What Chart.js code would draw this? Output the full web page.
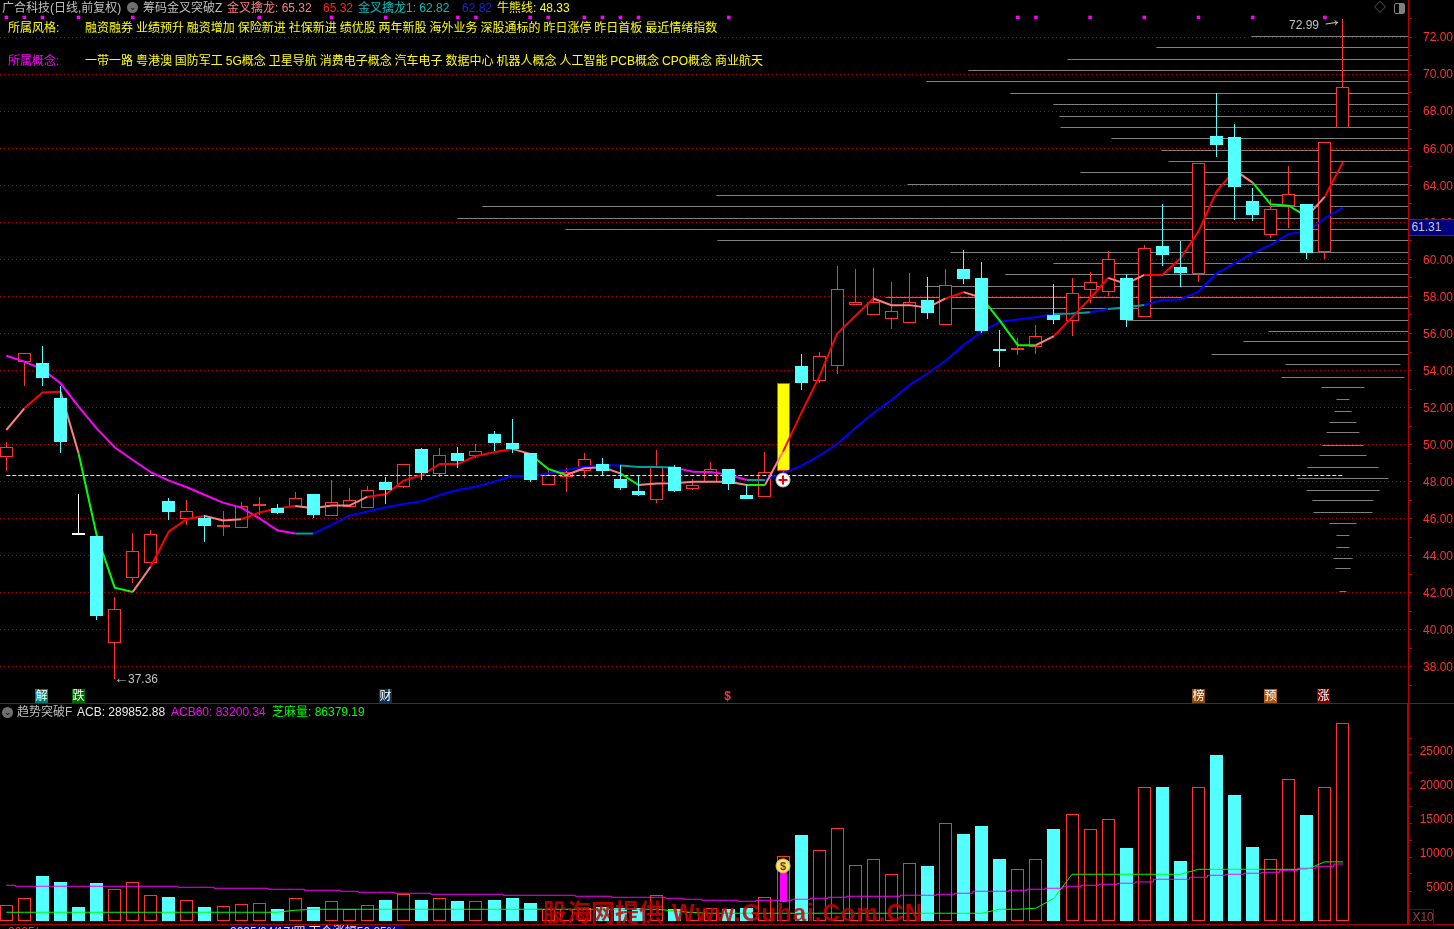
<!DOCTYPE html>
<html>
<head>
<meta charset="utf-8">
<title>广合科技</title>
<script src="https://cdn.jsdelivr.net/npm/chart.js@4/dist/chart.umd.min.js"></script>
<style>
  html, body { margin: 0; background: #000; width: 1454px; height: 929px; overflow: hidden; }
  body { position: relative; font: 12px "Liberation Sans", "Noto Sans CJK SC", sans-serif; }
  canvas { position: absolute; left: 0; }
  #pricePane { top: 0; }
  #volPane { top: 704px; }
  .t { position: absolute; white-space: pre; line-height: 14px; }
  .mark { position: absolute; top: 689px; width: 13px; height: 14px; line-height: 14px; text-align: center; color: #fff; font-size: 12px; }
  .rule { position: absolute; background: #b00000; }
  .icon { position: absolute; width: 11px; height: 11px; border-radius: 6px; background: #707070; color: #111; font-size: 9px; line-height: 10px; text-align: center; }
</style>
</head>
<body>
<canvas id="pricePane" width="1454" height="704"></canvas>
<canvas id="volPane" width="1454" height="221"></canvas>

<div class="rule" style="left:0;top:703px;width:1454px;height:1px"></div>
<div class="rule" style="left:0;top:924px;width:1454px;height:1px"></div>

<div class="icon" style="left:127px;top:2px">&#8964;</div>
<div class="t" style="left:2px;top:1px;color:#c0c0c0">广合科技(日线,前复权)</div>
<div class="t" style="left:143px;top:1px;color:#c0c0c0">筹码金叉突破Z</div>
<div class="t" style="left:227px;top:1px;color:#ff8080">金叉擒龙: 65.32</div>
<div class="t" style="left:323px;top:1px;color:#ff2020">65.32</div>
<div class="t" style="left:358px;top:1px;color:#00c0c0">金叉擒龙1: 62.82</div>
<div class="t" style="left:462px;top:1px;color:#2020e0">62.82</div>
<div class="t" style="left:497px;top:1px;color:#ffff00">牛熊线: 48.33</div>

<div class="t" style="left:8px;top:21px;color:#ffff00">所属风格:</div>
<div class="t" style="left:85px;top:21px;color:#ffff00;word-spacing:-0.4px">融资融券 业绩预升 融资增加 保险新进 社保新进 绩优股 两年新股 海外业务 深股通标的 昨日涨停 昨日首板 最近情绪指数</div>
<div class="t" style="left:8px;top:54px;color:#ff00ff">所属概念:</div>
<div class="t" style="left:85px;top:54px;color:#ffff00;word-spacing:-0.4px">一带一路 粤港澳 国防军工 5G概念 卫星导航 消费电子概念 汽车电子 数据中心 机器人概念 人工智能 PCB概念 CPO概念 商业航天</div>

<div class="t" style="left:1289px;top:18px;color:#c0c0c0">72.99</div>
<div class="t" style="left:1321px;top:14px;color:#c0c0c0;transform:rotate(-8deg);font-size:21px;transform-origin:left center;transform-box:fill-box">&#8594;</div>
<div class="t" style="left:114px;top:671px;color:#c0c0c0;font-size:15px">&#8592;</div>
<div class="t" style="left:128px;top:672px;color:#c0c0c0">37.36</div>
<div class="t" style="left:1374px;top:1px;color:#707070">&#9671;</div>
<div style="position:absolute;left:1394px;top:3px;width:9px;height:9px;border:1px solid #808080;border-radius:2px;background:linear-gradient(90deg,#000 50%,#808080 50%)"></div>
<div class="t" style="left:1409px;top:219px;width:45px;height:15px;line-height:15px;background:#000080;border-top:1px solid #b00000;border-bottom:1px solid #b00000;color:#c8c8c8">&#8201;61.31</div>

<div class="mark" style="left:35px;background:#007878">解</div>
<div class="mark" style="left:72px;background:#006800">跌</div>
<div class="mark" style="left:379px;background:#103058">财</div>
<div class="mark" style="left:721px;color:#ff3232;font-weight:bold">$</div>
<div class="mark" style="left:1192px;background:#8a4a10">榜</div>
<div class="mark" style="left:1264px;background:#b05810">预</div>
<div class="mark" style="left:1317px;background:#800000">涨</div>

<div class="icon" style="left:2px;top:707px">&#8964;</div>
<div class="t" style="left:17px;top:705px;color:#c0c0c0">趋势突破F</div>
<div class="t" style="left:77px;top:705px;color:#e8e8e8">ACB: 289852.88</div>
<div class="t" style="left:171px;top:705px;color:#ff00ff">ACB60: 83200.34</div>
<div class="t" style="left:272px;top:705px;color:#00ff00">芝麻量: 86379.19</div>
<div class="t" style="left:780px;top:859px;color:#704000;font-size:11px;font-weight:bold;z-index:2">$</div>

<div class="t" style="left:1409px;top:909px;width:23px;height:14px;border:1px solid #800000;color:#a04040">&#8201;X10</div>
<div class="t" style="left:543px;top:899px;line-height:28px;font-size:24px;font-weight:bold;color:rgba(205,0,0,.85)">股海网提供</div>
<div class="t" style="left:672px;top:899px;line-height:28px;font-size:24px;font-weight:bold;letter-spacing:1px;color:rgba(205,0,0,.85)">Www.Guhai.Com.CN</div>
<div class="t" style="left:230px;top:925px;width:173px;background:#000080;color:#e0e0e0">2025/04/17/四 下个涨幅50.85%</div>
<div class="t" style="left:8px;top:925px;color:#ff3232">2025/</div>

<script>
// 日线数据 (逐根从图上读)
const opens = [49.32,54.48,54.41,52.52,45.12,45.07,39.31,42.80,43.60,46.96,46.01,46.04,45.55,45.52,46.69,46.58,46.64,47.34,46.17,46.65,
  46.60,47.99,47.73,49.77,48.43,49.55,49.41,50.58,50.09,49.55,47.84,48.27,48.56,48.96,48.15,47.50,47.03,48.80,47.63,47.98,
  48.69,47.28,47.19,48.60,54.24,53.45,54.26,57.55,57.01,56.76,56.54,57.80,56.47,59.48,58.99,55.09,55.12,55.25,57.00,56.70,
  58.32,58.26,59.00,56.89,60.72,59.59,59.19,66.66,66.61,63.15,61.33,62.86,62.99,60.38,67.07];
const closes = [49.86,54.93,53.62,50.16,45.11,40.75,41.11,44.24,45.16,46.37,46.40,45.61,45.59,46.67,46.73,46.31,47.10,46.22,46.92,46.99,
  47.54,47.55,48.94,48.47,49.42,49.12,49.64,50.09,49.77,48.09,48.34,48.54,49.21,48.58,47.66,47.28,48.78,47.50,47.81,48.67,
  47.88,47.07,48.51,53.31,53.34,54.76,58.38,57.68,57.68,57.24,57.68,57.12,58.59,58.95,56.13,55.06,55.16,55.84,56.72,58.20,
  58.76,60.00,56.73,60.60,60.25,59.28,65.18,66.19,63.91,62.41,62.70,63.51,60.36,66.32,69.29];
const highs = [50.13,54.93,55.33,53.17,47.34,45.07,41.78,45.23,45.38,47.12,47.01,46.21,46.42,46.92,47.16,46.80,47.43,47.34,48.08,47.66,
  47.77,48.26,48.94,49.84,49.80,49.87,50.02,50.74,51.39,49.55,48.63,48.72,49.53,49.28,48.90,48.29,49.71,48.90,48.13,49.05,
  48.69,47.88,49.60,53.31,54.87,55.00,59.64,59.48,59.53,58.77,59.26,59.04,59.46,60.50,59.85,56.17,55.73,56.45,58.67,58.99,
  59.31,60.44,59.19,60.80,62.99,61.01,65.18,68.98,67.31,63.85,63.24,65.04,62.99,66.32,72.99];
const lows = [48.58,53.19,53.19,49.57,45.11,40.54,37.36,42.53,43.60,45.94,45.67,44.75,45.09,45.52,46.21,46.26,46.64,46.06,46.17,46.65,
  46.60,46.80,47.68,48.11,48.27,48.74,49.26,49.66,49.55,47.98,47.84,47.46,48.22,48.36,47.55,47.23,46.85,47.45,47.57,47.98,
  47.55,47.05,47.19,48.36,52.96,53.34,53.83,57.55,57.01,56.24,56.54,56.78,56.47,58.68,56.02,54.20,54.85,54.91,56.53,55.88,
  57.66,58.02,56.35,56.89,59.64,58.53,58.80,65.54,62.14,62.09,61.15,61.69,60.02,60.04,67.07];
const volumes = [2254,3283,6566,5684,2009,5537,4606,5635,3724,3479,2989,2009,2107,2401,2548,1715,3283,2009,2842,1666,
  2254,3038,3871,3038,3283,2891,2842,3038,3332,2597,1666,1700,1900,2000,1800,1800,3724,1715,1225,1862,
  1715,1911,3430,9506,12593,10339,13573,8134,9016,6811,8428,8036,14308,12740,13916,9065,7546,9016,13475,15631,
  13426,14896,10682,19600,19649,8771,19600,24353,18473,10829,9016,20776,15533,19600,28985];

// 金叉擒龙 / 牛熊线
const dragonLine = [50.79,51.96,52.81,52.86,49.53,45.13,42.28,42.05,43.42,45.31,45.99,46.15,45.90,45.97,46.33,46.56,46.69,46.56,46.71,46.71,
  47.19,47.32,48.06,48.36,48.96,48.96,49.39,49.59,49.77,49.50,48.69,48.36,48.72,48.78,48.45,47.82,47.90,47.91,48.00,48.00,
  48.00,47.82,47.82,49.62,51.69,53.66,56.00,56.94,57.89,57.53,57.53,57.39,57.89,58.23,57.93,56.69,55.37,55.37,55.86,56.87,
  57.89,59.00,58.67,59.16,59.16,60.06,61.50,63.66,64.82,64.14,62.97,62.90,62.31,63.39,65.26];
const dragonTrend = [1,0,0,1,2,2,2,1,0,0,0,1,1,0,0,0,1,1,1,1,0,0,0,0,0,0,0,0,1,2,2,1,1,1,2,1,1,1,1,1,1,2,1,0,0,0,0,0,1,1,1,1,0,1,2,2,2,1,0,0,0,1,1,0,0,0,0,0,1,2,2,2,1,0];
const bullLine = [54.80,54.48,54.07,53.31,52.05,50.88,49.86,49.17,48.51,48.06,47.70,47.28,46.87,46.60,46.03,45.38,45.20,45.20,45.67,46.17,
  46.39,46.62,46.80,46.94,47.28,47.55,47.73,48.00,48.31,48.31,48.45,48.63,48.81,48.90,48.87,48.79,48.79,48.76,48.54,48.52,
  48.36,48.09,48.09,48.45,48.85,49.39,50.03,50.90,51.71,52.40,53.21,53.84,54.53,55.37,56.09,56.63,56.76,56.87,57.05,57.08,
  57.14,57.32,57.41,57.54,57.81,57.84,58.26,59.25,59.79,60.33,60.78,61.37,61.50,62.22,62.79];
const bullTrend = [0,0,0,0,0,0,0,0,0,0,0,0,0,0,0,0,1,2,2,2,2,2,2,2,2,2,2,2,2,2,2,2,2,2,1,1,1,0,0,0,0,1,2,2,2,2,2,2,2,2,2,2,2,2,2,2,2,2,1,1,2,1,1,2,2,2,2,2,2,2,2,2,2,2];
const bullLevel = 48.33;

// 筹码分布
const chipPrices = [72.04,71.44,70.80,70.20,69.61,68.96,68.37,67.72,67.13,66.53,65.89,65.29,64.70,64.05,63.46,62.86,62.22,61.62,61.03,60.38,
  59.79,59.19,58.55,57.95,57.36,56.71,56.13,55.54,54.89,54.30,53.65,53.06,52.46,51.81,51.22,50.63,49.98,49.39,48.79,48.15,
  47.55,46.96,46.31,45.72,45.12,44.47,43.88,43.29,42.05];
const chipAmounts = [5.07,10.33,15.25,20.74,23.06,18.41,16.03,15.70,15.64,12.82,10.05,9.66,14.53,24.11,34.69,47.65,49.03,43.05,34.63,21.73,
  16.03,18.69,23.12,25.33,21.79,11.93,4.13,5.51,7.28,3.18,3.41,1.19,0.36,0.47,0.75,0.91,1.14,1.30,1.97,2.52,
  2.02,1.69,1.63,0.75,0.36,0.36,0.53,0.42,0.19];

// 成交量指标
const acb60 = [5194,5047,5047,5047,5047,5047,5047,5047,5047,5047,4900,4900,4753,4753,4753,4606,4606,4459,4459,4312,
  4165,4165,4018,4018,3871,3871,3871,3871,3724,3724,3724,3724,3577,3577,3430,3430,3430,3283,3136,2989,
  2989,2842,2989,2989,3136,3283,3430,3577,3577,3577,3724,3724,3871,4018,4312,4312,4459,4606,4753,5047,
  5194,5341,5488,5684,6076,6076,6370,6664,6811,6958,7105,7399,7693,7987,8320];
const sesame = [1225,1225,1225,1225,1225,1225,1225,1225,1225,1225,1225,1225,1225,1225,1225,1225,1519,1666,1666,1666,
  1666,1666,1666,1666,1666,1666,1666,1666,1666,1666,1666,1666,1666,1666,1666,1666,1666,1421,1176,1078,
  1078,1078,1078,1078,1078,1078,1078,1078,1078,1078,1078,1078,1078,1078,1078,1666,1666,1813,3283,6811,
  6811,6811,6811,6811,6811,6811,7546,7546,7546,7546,7546,7546,7546,8638,8638];

// 顶部小方块 / 特殊K线
const topMarkers = [0,1,2,4,7,14,18,21,25,26,29,30,32,33,34,35,40,56,57,60,63,66,69,73];
const topMarkerLevel = 73.06;
const limitDownBar = 4;
const limitUpBar = 43;
const signalPrice = 48.09;
const limitUpVolume = [2793,7203];
const bagVolume = 8044;

// 坐标刻度
const priceTicks = [38,40,42,44,46,48,50,52,54,56,58,60,62,64,66,68,70,72];
const volumeTicks = [5000,10000,15000,20000,25000];

const RED = "#ff3232", CYAN = "#54ffff", GRID = "#b80000";
const xRange = { type: "linear", display: false, min: -0.349, max: 77.6, offset: false, grid: { offset: false } };
const bars = opens.map((_, i) => i);
const upBars = bars.filter(i => closes[i] >= opens[i]);
const downBars = bars.filter(i => closes[i] < opens[i]);

function candleColor(i) {
  if (i === limitDownBar) return "#ffffff";
  return closes[i] >= opens[i] ? RED : CYAN;
}
function pts(values) {
  return values.map((y, x) => ({ x, y }));
}

function wicks(list, order) {
  return {
    type: "bar", order, grouped: false, barThickness: 1, borderWidth: 0, inflateAmount: 0,
    backgroundColor: ctx => candleColor(ctx.raw.x),
    data: list.map(i => ({ x: i, y: [lows[i], highs[i]] }))
  };
}
function bodies(list, order) {
  return {
    type: "bar", order, grouped: false, barThickness: 13, borderWidth: 1, borderSkipped: false, inflateAmount: 0,
    borderColor: ctx => candleColor(ctx.raw.x),
    backgroundColor: ctx => {
      if (ctx.raw.x === limitUpBar) return "#ffff00";
      return closes[ctx.raw.x] >= opens[ctx.raw.x] ? "#000000" : candleColor(ctx.raw.x);
    },
    data: list.map(i => ({ x: i, y: [opens[i], closes[i]] }))
  };
}
function volBars(list, order) {
  return {
    type: "bar", order, grouped: false, barThickness: 13, borderWidth: 1, borderSkipped: false, inflateAmount: 0,
    borderColor: ctx => closes[ctx.raw.x] >= opens[ctx.raw.x] ? RED : CYAN,
    backgroundColor: ctx => closes[ctx.raw.x] >= opens[ctx.raw.x] ? "#000000" : CYAN,
    data: list.map(i => ({ x: i, y: volumes[i] }))
  };
}
function trendLine(values, trend, colors, order) {
  return {
    type: "line", order, data: pts(values), borderWidth: 2, pointRadius: 0, tension: 0,
    borderColor: colors[0],
    segment: { borderColor: ctx => colors[trend[ctx.p0DataIndex]] }
  };
}

// 筹码线: 以最后一根为中心, 两点一段, 中间用空点断开
const chipPoints = [];
chipPrices.forEach((p, i) => {
  const center = bars.length - 1;
  chipPoints.push({ x: center - chipAmounts[i], y: p }, { x: center + chipAmounts[i], y: p }, { x: null, y: null });
});

// 让柱子落在整像素上, 不然1px边框会发虚
const snapPixels = {
  id: "snapPixels",
  afterDatasetsUpdate(chart) {
    chart.getSortedVisibleDatasetMetas().forEach(meta => {
      const ds = chart.data.datasets[meta.index];
      meta.data.forEach(el => {
        if (meta.type === "bar") {
          el.x = Math.floor(el.x) + 0.5;
          el.y = Math.round(el.y);
          el.base = Math.round(el.base);
          if (Math.abs(el.base - el.y) < 2) el.y = el.base - 2;
        } else if (ds.snapY) {
          el.y = Math.floor(el.y) + 0.5;
        }
      });
    });
  }
};

// 刻度文字自己画: 开着ticks.display时布局会把绘图区上下缩进去
function tickLabels(values, fmt) {
  return {
    id: "tickLabels",
    afterDraw(chart) {
      const { ctx, scales } = chart;
      ctx.save();
      ctx.fillStyle = RED;
      ctx.font = '12px "Liberation Sans", sans-serif';
      ctx.textAlign = "right";
      ctx.textBaseline = "middle";
      values.forEach(v => ctx.fillText(fmt(v), 1453, scales.y.getPixelForValue(v) + 1));
      ctx.restore();
    }
  };
}

Chart.defaults.font.family = '"Liberation Sans", "Noto Sans CJK SC", sans-serif';
Chart.defaults.font.size = 12;
Chart.defaults.color = RED;

function baseOptions(yScale) {
  return {
    responsive: false, animation: false, devicePixelRatio: 1, events: [],
    layout: { padding: 0, autoPadding: false },
    plugins: { legend: { display: false }, tooltip: { enabled: false } },
    scales: { x: xRange, y: yScale }
  };
}
function fixAxis(s) {
  s.width = 46;
}

new Chart(document.getElementById("pricePane"), {
  type: "bar",
  data: {
    datasets: [
      { type: "line", order: 20, data: chipPoints, snapY: true, borderColor: "#808080", borderWidth: 1, pointRadius: 0, spanGaps: false, clip: 0 },
      wicks(upBars, 18),
      bodies(upBars, 17),
      { type: "line", order: 15, data: [{ x: 0, y: bullLevel }, { x: bars.length - 1, y: bullLevel }], snapY: true, borderColor: "#ffff00", borderWidth: 1, borderDash: [4, 2], pointRadius: 0 },
      trendLine(bullLine, bullTrend, ["#ff00ff", "#00a0a0", "#0000ff"], 13),
      trendLine(dragonLine, dragonTrend, ["#ff0000", "#ff8080", "#00ff00"], 12),
      wicks(downBars, 6),
      bodies(downBars, 5),
      { type: "line", order: 2, showLine: false, data: topMarkers.map(i => ({ x: i, y: topMarkerLevel })), pointStyle: "rect", pointRadius: 2.5, pointBorderWidth: 0, pointBackgroundColor: "#ff00ff" },
      { type: "line", order: 1, showLine: false, data: [{ x: limitUpBar, y: signalPrice }], pointRadius: 7, pointBackgroundColor: "#ffffff", pointBorderColor: "#c0c0c0", pointBorderWidth: 1 },
      { type: "line", order: 0, showLine: false, data: [{ x: limitUpBar, y: signalPrice }], pointStyle: "cross", pointRadius: 4.5, pointBorderColor: "#e00000", pointBorderWidth: 2 }
    ]
  },
  options: baseOptions({
    position: "right", min: 36, max: 74, afterFit: fixAxis,
    border: { color: GRID, dash: [1, 3] },
    grid: {
      drawTicks: true, tickLength: 4, tickBorderDash: [],
      color: ctx => priceTicks.includes(ctx.tick.value) ? GRID : "transparent",
      tickColor: ctx => (ctx.tick.value >= 37 && ctx.tick.value <= 73) ? GRID : "transparent"
    },
    ticks: { stepSize: 1, autoSkip: false, includeBounds: false, display: false }
  }),
  plugins: [snapPixels, tickLabels(priceTicks, v => v.toFixed(2))]
});

new Chart(document.getElementById("volPane"), {
  type: "bar",
  data: {
    datasets: [
      volBars(upBars, 10),
      volBars(downBars, 9),
      { type: "bar", order: 8, grouped: false, barThickness: 7, borderWidth: 0, inflateAmount: 0, backgroundColor: "#ff00ff", data: [{ x: limitUpBar, y: limitUpVolume }] },
      { type: "line", order: 6, data: pts(acb60), borderColor: "#ff00ff", borderWidth: 1, pointRadius: 0, stepped: "middle" },
      { type: "line", order: 5, data: pts(sesame), borderColor: "#00ff00", borderWidth: 1, pointRadius: 0 },
      { type: "line", order: 1, showLine: false, data: [{ x: limitUpBar, y: bagVolume }], pointRadius: 7, pointBackgroundColor: "#f8e070", pointBorderColor: "#e0c040", pointBorderWidth: 1 }
    ]
  },
  options: baseOptions({
    position: "right", min: -650, max: 31850, afterFit: fixAxis,
    border: { color: GRID, width: 2, dash: [1, 3] },
    grid: {
      drawTicks: true, tickLength: 4, tickBorderDash: [],
      color: ctx => volumeTicks.includes(ctx.tick.value) ? GRID : "transparent",
      tickColor: ctx => (ctx.tick.value >= 2500 && ctx.tick.value <= 27500) ? GRID : "transparent"
    },
    ticks: { stepSize: 2500, autoSkip: false, includeBounds: false, display: false }
  }),
  plugins: [snapPixels, tickLabels(volumeTicks, v => String(v))]
});
</script>
</body>
</html>
